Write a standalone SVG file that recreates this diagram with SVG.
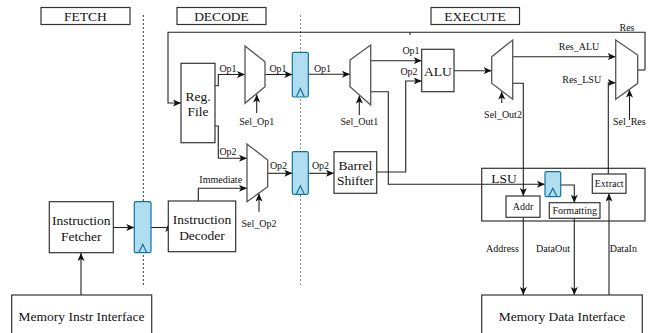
<svg xmlns="http://www.w3.org/2000/svg" width="656" height="333" viewBox="0 0 656 333">
<style>
  .box{fill:#fff;stroke:#333;stroke-width:1.2}
  .open{fill:none;stroke:#333;stroke-width:1.2}
  .mux{fill:#fff;stroke:#555;stroke-width:1.3}
  .reg{fill:#b1ddf0;stroke:#10739e;stroke-width:1.2}
  .tri{fill:none;stroke:#10739e;stroke-width:1.2}
  .w{fill:none;stroke:#222;stroke-width:1.1}
  .wa{fill:none;stroke:#222;stroke-width:1.1;marker-end:url(#ah)}
  .big{font-family:"Liberation Serif","Times New Roman",serif;font-size:13.5px;fill:#111;text-anchor:middle}
  .sm{font-family:"Liberation Serif","Times New Roman",serif;font-size:10px;fill:#111;text-anchor:middle}
  .dot1{stroke:#333;stroke-width:1;stroke-dasharray:2 2}
  .dot2{stroke:#888;stroke-width:1;stroke-dasharray:2 2}
</style>
<defs>
  <marker id="ah" markerUnits="userSpaceOnUse" markerWidth="9" markerHeight="8" refX="8" refY="3.5" orient="auto">
    <path d="M0,0 L8,3.5 L0,7 L2,3.5 z" fill="#111"/>
  </marker>
</defs>
<rect width="656" height="333" fill="#fff"/>

<g id="stages">
  <rect class="box" x="41" y="7.5" width="89" height="17"/>
  <text class="big" x="85.5" y="20.5">FETCH</text>
  <rect class="box" x="177" y="7.5" width="89" height="17"/>
  <text class="big" x="221.5" y="20.5">DECODE</text>
  <rect class="box" x="431" y="7.5" width="88.5" height="17"/>
  <text class="big" x="475" y="20.5">EXECUTE</text>
  <line class="dot1" x1="143.3" y1="15" x2="143.3" y2="287"/>
  <line class="dot2" x1="300.5" y1="15" x2="300.5" y2="287"/>
</g>

<g id="lsu">
  <rect class="open" x="481.7" y="168.3" width="163.3" height="52.7"/>
  <text class="big" x="504" y="183">LSU</text>
</g>

<g id="connectors">
  <!-- fetch -->
  <line class="wa" x1="81" y1="295" x2="81" y2="253"/>
  <line class="wa" x1="113.3" y1="227.5" x2="134.3" y2="227.5"/>
  <line class="w" x1="151" y1="227.5" x2="168.3" y2="227.5"/>
  <polygon points="168.3,224 165.3,232 168.3,230 171.3,232" fill="#111"/>
  <!-- decode -->
  <path class="wa" d="M645,70 H645 V32.3 H168 V103 H181"/>
  <line class="w" x1="637.7" y1="70" x2="645" y2="70"/>
  <line class="w" x1="410" y1="32.3" x2="410" y2="35"/>
  <path class="wa" d="M215,85.7 H218.3 V74.5 H245"/>
  <path class="wa" d="M215,126 H218.3 V158.3 H247"/>
  <path class="wa" d="M198.3,201 V188.3 H247"/>
  <line class="wa" x1="256.7" y1="113" x2="256.7" y2="94.5"/>
  <line class="wa" x1="259" y1="211.7" x2="259" y2="193.5"/>
  <line class="wa" x1="265" y1="74.5" x2="292.3" y2="74.5"/>
  <line class="wa" x1="267.7" y1="173.3" x2="292.3" y2="173.3"/>
  <!-- execute -->
  <line class="wa" x1="308.3" y1="74.3" x2="350" y2="74.3"/>
  <line class="wa" x1="308.3" y1="173.3" x2="334" y2="173.3"/>
  <line class="wa" x1="359.3" y1="115" x2="359.3" y2="95.5"/>
  <line class="wa" x1="370.7" y1="60.7" x2="421.7" y2="60.7"/>
  <path class="wa" d="M370.7,91.7 H388.3 V184.3 H545"/>
  <path class="wa" d="M376.7,172 H405.7 V81 H421.7"/>
  <line class="wa" x1="454" y1="70.7" x2="491.7" y2="70.7"/>
  <line class="wa" x1="501.7" y1="103" x2="501.7" y2="91.5"/>
  <line class="wa" x1="512.7" y1="56.7" x2="615.7" y2="56.7"/>
  <path class="wa" d="M512.7,83.3 H523.3 V196"/>
  <path class="wa" d="M608.3,174 V82.7 H615.7"/>
  <line class="wa" x1="629.5" y1="120" x2="629.5" y2="89.5"/>
  <path class="wa" d="M560.7,185 H574.3 V202.7"/>
  <line class="wa" x1="523.3" y1="217.3" x2="523.3" y2="295"/>
  <line class="wa" x1="574.3" y1="218.3" x2="574.3" y2="295"/>
  <line class="wa" x1="609" y1="295" x2="609" y2="193.5"/>
  <!-- labels -->
  <text class="sm" x="627" y="31">Res</text>
  <text class="sm" x="228" y="71.5">Op1</text>
  <text class="sm" x="278" y="71.5">Op1</text>
  <text class="sm" x="322.5" y="71.5">Op1</text>
  <text class="sm" x="228" y="155">Op2</text>
  <text class="sm" x="278.5" y="168.5">Op2</text>
  <text class="sm" x="320.5" y="168.5">Op2</text>
  <text class="sm" x="220.7" y="182.8">Immediate</text>
  <text class="sm" x="256.7" y="125">Sel_Op1</text>
  <text class="sm" x="259" y="226.7">Sel_Op2</text>
  <text class="sm" x="359.3" y="125">Sel_Out1</text>
  <text class="sm" x="503" y="117.5">Sel_Out2</text>
  <text class="sm" x="629.3" y="125">Sel_Res</text>
  <text class="sm" x="411" y="53.5">Op1</text>
  <text class="sm" x="409" y="75">Op2</text>
  <text class="sm" x="579" y="50">Res_ALU</text>
  <text class="sm" x="581.7" y="82.7">Res_LSU</text>
  <text class="sm" x="502.5" y="251.5">Address</text>
  <text class="sm" x="553" y="251.5">DataOut</text>
  <text class="sm" x="623.3" y="251.5">DataIn</text>
</g>

<g id="mem-instr">
  <rect class="box" x="11.7" y="295" width="140" height="50"/>
  <text class="big" x="81.5" y="321">Memory Instr Interface</text>
</g>
<g id="fetcher">
  <rect class="box" x="49.3" y="201.7" width="64" height="51"/>
  <text class="big" x="81.3" y="224.5">Instruction</text>
  <text class="big" x="81.3" y="240.5">Fetcher</text>
</g>
<g id="reg-if">
  <rect class="reg" x="134.3" y="201.7" width="16.7" height="51" rx="1.5"/>
  <path class="tri" d="M139,252.3 L142.8,244.3 L146.6,252.3"/>
</g>
<g id="decoder">
  <rect class="box" x="168.3" y="201" width="67.4" height="50.7"/>
  <text class="big" x="202" y="223.8">Instruction</text>
  <text class="big" x="202" y="239.5">Decoder</text>
</g>
<g id="regfile">
  <rect class="box" x="181" y="63.3" width="34" height="79.4"/>
  <text class="big" x="198" y="101">Reg.</text>
  <text class="big" x="198" y="116">File</text>
</g>
<g id="mux-op1">
  <polygon class="mux" points="245,46 265,61.7 265,86.7 245,103.3"/>
</g>
<g id="mux-op2">
  <polygon class="mux" points="247,144 267.7,160 267.7,186.7 247,201.7"/>
</g>
<g id="reg-de1">
  <rect class="reg" x="292.3" y="52.3" width="16" height="44.7" rx="1.5"/>
  <path class="tri" d="M296.5,96.5 L300.3,88.5 L304.1,96.5"/>
</g>
<g id="reg-de2">
  <rect class="reg" x="292.3" y="151.7" width="16" height="42.6" rx="1.5"/>
  <path class="tri" d="M296.5,193.8 L300.3,185.8 L304.1,193.8"/>
</g>
<g id="barrel">
  <rect class="box" x="334" y="151.7" width="42.7" height="41.6"/>
  <text class="big" x="355.3" y="169.5">Barrel</text>
  <text class="big" x="355.3" y="185">Shifter</text>
</g>
<g id="mux-out1">
  <polygon class="mux" points="350,60 370.7,45 370.7,105 350,86.7"/>
</g>
<g id="alu">
  <rect class="box" x="421.7" y="49.3" width="32.3" height="42.4"/>
  <text class="big" x="437.8" y="76">ALU</text>
</g>
<g id="mux-out2">
  <polygon class="mux" points="491.7,56.7 512.7,40 512.7,99.3 491.7,83.3"/>
</g>
<g id="mux-res">
  <polygon class="mux" points="615.7,40 637.7,55 637.7,83.3 615.7,99.3"/>
</g>
<g id="reg-lsu">
  <rect class="reg" x="545" y="171.7" width="15.7" height="25" rx="1.5"/>
  <path class="tri" d="M548.8,196.3 L552.8,188.3 L556.8,196.3"/>
</g>
<g id="addr">
  <rect class="box" x="506" y="196" width="34" height="21.3"/>
  <text class="sm" x="523" y="210.2">Addr</text>
</g>
<g id="formatting">
  <rect class="box" x="549.3" y="202.7" width="50.7" height="15.6"/>
  <text class="sm" x="574.7" y="214">Formatting</text>
</g>
<g id="extract">
  <rect class="box" x="592.3" y="174" width="33.7" height="19.3"/>
  <text class="sm" x="609.2" y="187">Extract</text>
</g>
<g id="mem-data">
  <rect class="box" x="481.7" y="295" width="160.6" height="50"/>
  <text class="big" x="562" y="321">Memory Data Interface</text>
</g>
</svg>
